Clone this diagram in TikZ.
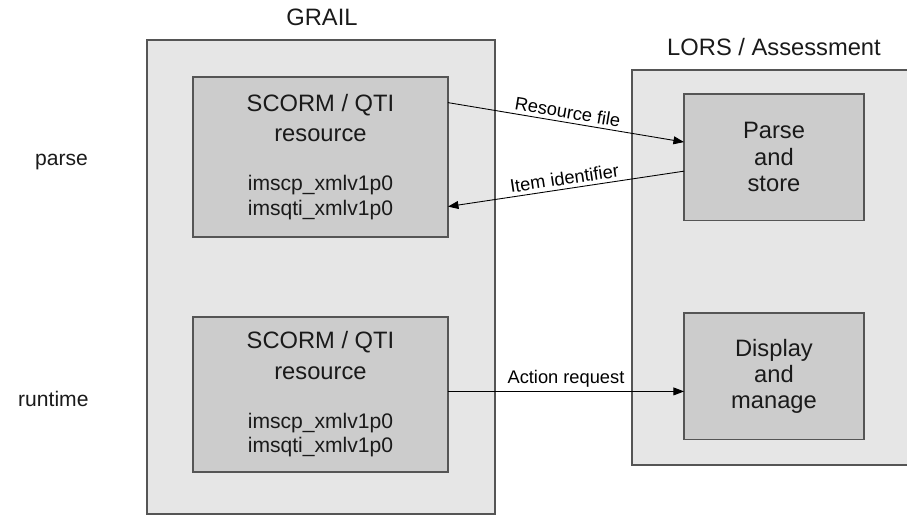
\documentclass[tikz,border=0pt]{standalone}
\usepackage{fontspec}
\setmainfont{Liberation Sans}
\usepackage{tikz}
\usetikzlibrary{arrows.meta,calc}
\definecolor{grailInk}{HTML}{1A1A1A}
\definecolor{grailRule}{HTML}{555555}
\definecolor{grailPanel}{HTML}{E6E6E6}
\definecolor{grailUnit}{HTML}{CCCCCC}
\newcommand{\bigtxt}{\fontsize{13.5}{15.9}\selectfont}
\newcommand{\smalltxt}{\fontsize{12}{11.9}\selectfont}

\begin{document}
\begin{tikzpicture}[
  x=0.02cm,y=-0.02cm,
  font=\fontsize{13.5}{15}\selectfont,text=grailInk,
  panel/.style={draw=grailRule,fill=grailPanel,line width=0.7pt,
                anchor=north west,inner sep=0pt,outer sep=0pt},
  unit/.style={draw=grailRule,fill=grailUnit,line width=0.7pt,
               anchor=north west,inner sep=0pt,outer sep=0pt,align=center},
  res/.style={unit,minimum width=5.1cm},
  task/.style={unit,minimum width=3.6cm,minimum height=2.53cm},
  arr/.style={-{Triangle[length=6pt,width=4.5pt]},line width=0.5pt,black},
  rarr/.style={{Triangle[length=6pt,width=4.5pt]}-,line width=0.5pt,black},
  lbl/.style={font=\fontsize{10.4}{12}\selectfont,inner sep=2pt},
  head/.style={anchor=base},
  phase/.style={anchor=base west,font=\fontsize{12}{14}\selectfont}
]
\useasboundingbox (0,0) rectangle (907,515);

% Panels (background)
\node[panel,minimum width=6.96cm,minimum height=9.48cm] (grail) at (147,40) {};
\node[panel,minimum width=6.06cm,minimum height=7.9cm]  (lors)  at (632,70) {};

% Panel titles
\node[head] (grailT) at (322,25) {GRAIL};
\node[head] (lorsT)  at (774,55) {LORS / Assessment};

% Phase labels (left)
\node[phase] (parseT)   at (29,165) {parse};
\node[phase] (runtimeT) at (12,406) {runtime};

% GRAIL side
\node[res,minimum height=3.2cm] (res1) at (193,77)
  {\bigtxt SCORM / QTI\\[2.3pt]\bigtxt resource\\[13pt]\smalltxt imscp\_xmlv1p0\\[-1.1pt]\smalltxt imsqti\_xmlv1p0};
\node[res,minimum height=3.1cm] (res2) at (193,317)
  {\bigtxt SCORM / QTI\\[2.3pt]\bigtxt resource\\[13pt]\smalltxt imscp\_xmlv1p0\\[-1.1pt]\smalltxt imsqti\_xmlv1p0};

% LORS side
\node[task] (parse) at (684,94)  {Parse\\and\\store};
\node[task] (disp)  at (684,313) {Display\\and\\manage};

% Connectors
\coordinate (actY) at ($(disp.north west)!0.62!(disp.south west)$);
\draw[arr] ($(res1.north east)!0.16!(res1.south east)$)
  -- node[lbl,sloped,above]{Resource file}
  ($(parse.north west)!0.38!(parse.south west)$);
\draw[rarr] ($(res1.north east)!0.81!(res1.south east)$)
  -- node[lbl,sloped,above]{Item identifier}
  ($(parse.north west)!0.61!(parse.south west)$);
\draw[arr] (res2.east |- actY) -- node[lbl,above]{Action request} (actY);
\end{tikzpicture}
\end{document}
